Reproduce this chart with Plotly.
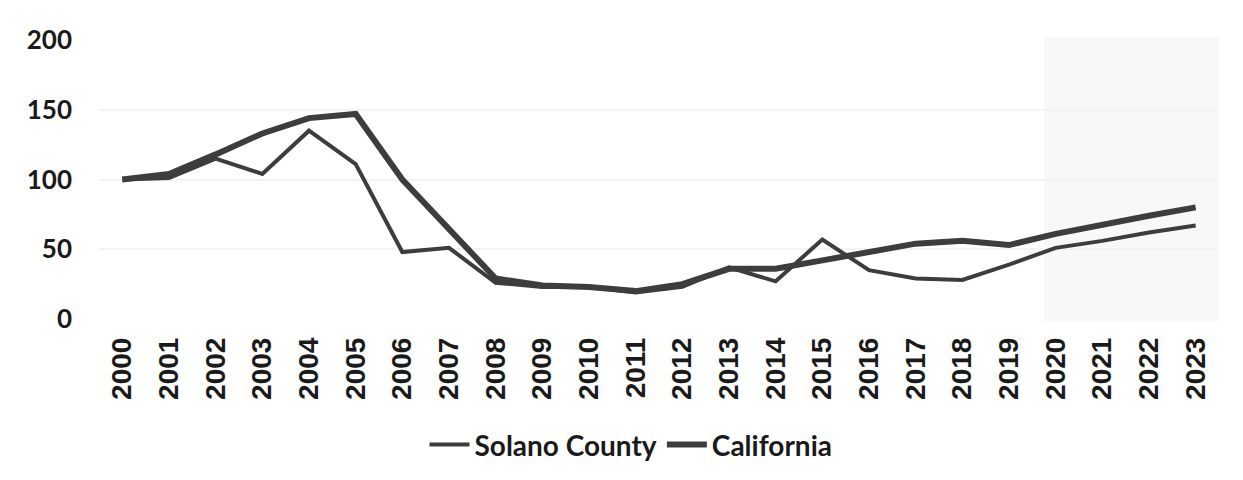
import plotly.graph_objects as go

years = [str(y) for y in range(2000, 2024)]
solano = [100, 101, 115, 104, 135, 111, 48, 51, 26, 23, 23, 19, 23, 37, 27, 57, 35, 29, 28, 39, 51, 56, 62, 67]
california = [100, 104, 118, 133, 144, 147, 100, 64, 29, 24, 23, 20, 25, 36, 36, 42, 48, 54, 56, 53, 61, 68, 74, 80]
y_ticks = [0, 50, 100, 150, 200]

line_color = "#3d3d3d"

fig = go.Figure()
fig.add_trace(go.Scatter(x=years, y=solano, mode="lines", name="Solano County",
                         line=dict(color=line_color, width=4)))
fig.add_trace(go.Scatter(x=years, y=california, mode="lines", name="California",
                         line=dict(color=line_color, width=6)))

# light shaded projection area
fig.add_shape(type="rect", xref="x", yref="paper", x0=19.75, x1=23.5, y0=-0.01, y1=1.01,
              fillcolor="#f8f8f8", line=dict(width=0), layer="below")

fig.update_layout(
    width=1243, height=480,
    margin=dict(l=99, r=24, t=40, b=160),
    paper_bgcolor="white", plot_bgcolor="white",
    showlegend=True,
    legend=dict(orientation="h", x=0.475, xanchor="center", y=-0.446, yanchor="middle",
                font=dict(family="Lato", size=28, color="#1a1a1a", weight="bold"),
                itemwidth=40, traceorder="normal"),
    xaxis=dict(type="category", range=[-0.5, 23.5], tickangle=-90,
               showgrid=False, zeroline=False, showline=False,
               tickfont=dict(family="Liberation Sans", size=28, color="#1a1a1a", weight="bold"),
               ticks="", ticklabelstandoff=12),
    yaxis=dict(range=[0, 200], tickvals=y_ticks, showgrid=True, gridcolor="#f3f3f3", gridwidth=2,
               zeroline=False, showline=False,
               tickfont=dict(family="Lato", size=26, color="#1a1a1a", weight="bold"),
               ticks="", ticklabelstandoff=26),
)

fig.write_html("out.html", config={"displayModeBar": False},
               post_script="document.body.style.margin='0';")
